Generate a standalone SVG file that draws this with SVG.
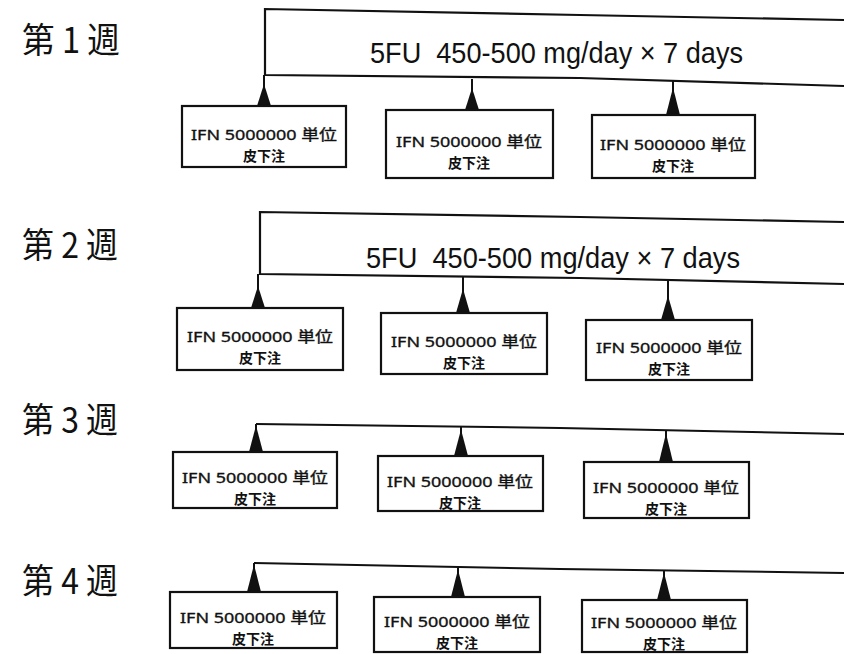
<svg xmlns="http://www.w3.org/2000/svg" xmlns:xlink="http://www.w3.org/1999/xlink" width="844" height="654" viewBox="0 0 844 654">
<style>
.wk{font-family:"Noto Sans CJK JP","Noto Sans",sans-serif;font-size:35px;fill:#111}
.bar{fill:#fff;stroke:#111;stroke-width:2.2}
.ln{fill:none;stroke:#111;stroke-width:2}
.box{fill:#fff;stroke:#111;stroke-width:2.2}
.t1{font-family:"Noto Sans","Noto Sans CJK JP",sans-serif;font-size:15px;fill:#111;stroke:#111;stroke-width:0.35;text-anchor:middle}
.t2{font-family:"Noto Sans CJK JP",sans-serif;font-size:14px;fill:#111;text-anchor:middle;font-weight:bold}
.fu{font-family:"Liberation Sans","Noto Sans CJK JP",sans-serif;font-size:30px;fill:#111}
.tri{fill:#111}
</style>
<defs>
<path id="tri" d="M0,-22 L7,0 L-7,0 Z"/>
</defs>

<g id="labels">
<text class="wk" x="22" y="53" textLength="98" lengthAdjust="spacingAndGlyphs">第 1 週</text>
<text class="wk" x="22" y="258" textLength="96" lengthAdjust="spacingAndGlyphs">第 2 週</text>
<text class="wk" x="22" y="433" textLength="96" lengthAdjust="spacingAndGlyphs">第 3 週</text>
<text class="wk" x="22" y="594" textLength="96" lengthAdjust="spacingAndGlyphs">第 4 週</text>
</g>

<g id="week1-5fu">
<path class="bar" d="M844,20 L580,15 L265,9 L265,75 L580,78 L844,86"/>
<text class="fu" x="370" y="63" textLength="373" lengthAdjust="spacingAndGlyphs" xml:space="preserve">5FU  450-500 mg/day × 7 days</text>
</g>
<g id="week2-5fu">
<path class="bar" d="M844,222 L580,217 L260,212 L260,274 L580,278 L844,284"/>
<text class="fu" x="366" y="268" textLength="374" lengthAdjust="spacingAndGlyphs" xml:space="preserve">5FU  450-500 mg/day × 7 days</text>
</g>

<g id="connectors">
<polyline class="ln" points="256,424 560,428 844,434"/>
<polyline class="ln" points="254,563 560,569 844,573"/>
<line class="ln" x1="264" y1="75" x2="264" y2="106"/>
<line class="ln" x1="472" y1="79" x2="472" y2="110"/>
<line class="ln" x1="673" y1="80" x2="673" y2="115"/>
<line class="ln" x1="258" y1="274" x2="258" y2="308"/>
<line class="ln" x1="463" y1="277" x2="463" y2="313"/>
<line class="ln" x1="668" y1="279" x2="668" y2="320"/>
<line class="ln" x1="256" y1="424" x2="256" y2="452"/>
<line class="ln" x1="461" y1="427" x2="461" y2="456"/>
<line class="ln" x1="666" y1="431" x2="666" y2="462"/>
<line class="ln" x1="254" y1="563" x2="254" y2="592"/>
<line class="ln" x1="458" y1="567" x2="458" y2="597"/>
<line class="ln" x1="664" y1="571" x2="664" y2="600"/>
<use href="#tri" class="tri" x="264" y="106"/>
<use href="#tri" class="tri" x="472" y="110"/>
<use href="#tri" class="tri" x="673" y="115" transform="translate(673 115) scale(1 1.25) translate(-673 -115)"/>
<use href="#tri" class="tri" x="258" y="308"/>
<use href="#tri" class="tri" x="463" y="313" transform="translate(463 313) scale(1 1.1) translate(-463 -313)"/>
<use href="#tri" class="tri" x="668" y="320" transform="translate(668 320) scale(1 1.1) translate(-668 -320)"/>
<use href="#tri" class="tri" x="256" y="452" transform="translate(256 452) scale(1 1.2) translate(-256 -452)"/>
<use href="#tri" class="tri" x="461" y="456" transform="translate(461 456) scale(1 1.2) translate(-461 -456)"/>
<use href="#tri" class="tri" x="666" y="462" transform="translate(666 462) scale(1 1.3) translate(-666 -462)"/>
<use href="#tri" class="tri" x="254" y="592" transform="translate(254 592) scale(1 1.25) translate(-254 -592)"/>
<use href="#tri" class="tri" x="458" y="597" transform="translate(458 597) scale(1 1.25) translate(-458 -597)"/>
<use href="#tri" class="tri" x="664" y="600" transform="translate(664 600) scale(1 1.25) translate(-664 -600)"/>
</g>

<g id="w1-b1"><rect class="box" x="182" y="106" width="164" height="61"/>
<text class="t1" x="264" y="140" textLength="146" lengthAdjust="spacingAndGlyphs">IFN 5000000 単位</text><text class="t2" x="264" y="161">皮下注</text></g>
<g id="w1-b2"><rect class="box" x="386" y="110" width="167" height="68"/>
<text class="t1" x="469" y="147" textLength="146" lengthAdjust="spacingAndGlyphs">IFN 5000000 単位</text><text class="t2" x="469" y="168">皮下注</text></g>
<g id="w1-b3"><rect class="box" x="592" y="115" width="163" height="63"/>
<text class="t1" x="673" y="150" textLength="146" lengthAdjust="spacingAndGlyphs">IFN 5000000 単位</text><text class="t2" x="673" y="171">皮下注</text></g>

<g id="w2-b1"><rect class="box" x="177" y="308" width="166" height="62"/>
<text class="t1" x="260" y="342" textLength="146" lengthAdjust="spacingAndGlyphs">IFN 5000000 単位</text><text class="t2" x="260" y="363">皮下注</text></g>
<g id="w2-b2"><rect class="box" x="381" y="313" width="166" height="61"/>
<text class="t1" x="464" y="347" textLength="146" lengthAdjust="spacingAndGlyphs">IFN 5000000 単位</text><text class="t2" x="464" y="368">皮下注</text></g>
<g id="w2-b3"><rect class="box" x="586" y="320" width="166" height="60"/>
<text class="t1" x="669" y="353" textLength="146" lengthAdjust="spacingAndGlyphs">IFN 5000000 単位</text><text class="t2" x="669" y="374">皮下注</text></g>

<g id="w3-b1"><rect class="box" x="173" y="452" width="164" height="56"/>
<text class="t1" x="255" y="483" textLength="146" lengthAdjust="spacingAndGlyphs">IFN 5000000 単位</text><text class="t2" x="255" y="504">皮下注</text></g>
<g id="w3-b2"><rect class="box" x="378" y="456" width="165" height="55"/>
<text class="t1" x="460" y="487" textLength="146" lengthAdjust="spacingAndGlyphs">IFN 5000000 単位</text><text class="t2" x="460" y="508">皮下注</text></g>
<g id="w3-b3"><rect class="box" x="584" y="462" width="165" height="56"/>
<text class="t1" x="666" y="493" textLength="146" lengthAdjust="spacingAndGlyphs">IFN 5000000 単位</text><text class="t2" x="666" y="514">皮下注</text></g>

<g id="w4-b1"><rect class="box" x="170" y="592" width="167" height="56"/>
<text class="t1" x="253" y="623" textLength="146" lengthAdjust="spacingAndGlyphs">IFN 5000000 単位</text><text class="t2" x="253" y="644">皮下注</text></g>
<g id="w4-b2"><rect class="box" x="374" y="597" width="166" height="55"/>
<text class="t1" x="457" y="627" textLength="146" lengthAdjust="spacingAndGlyphs">IFN 5000000 単位</text><text class="t2" x="457" y="648">皮下注</text></g>
<g id="w4-b3"><rect class="box" x="582" y="600" width="165" height="52"/>
<text class="t1" x="664" y="628" textLength="146" lengthAdjust="spacingAndGlyphs">IFN 5000000 単位</text><text class="t2" x="664" y="649">皮下注</text></g>
</svg>
